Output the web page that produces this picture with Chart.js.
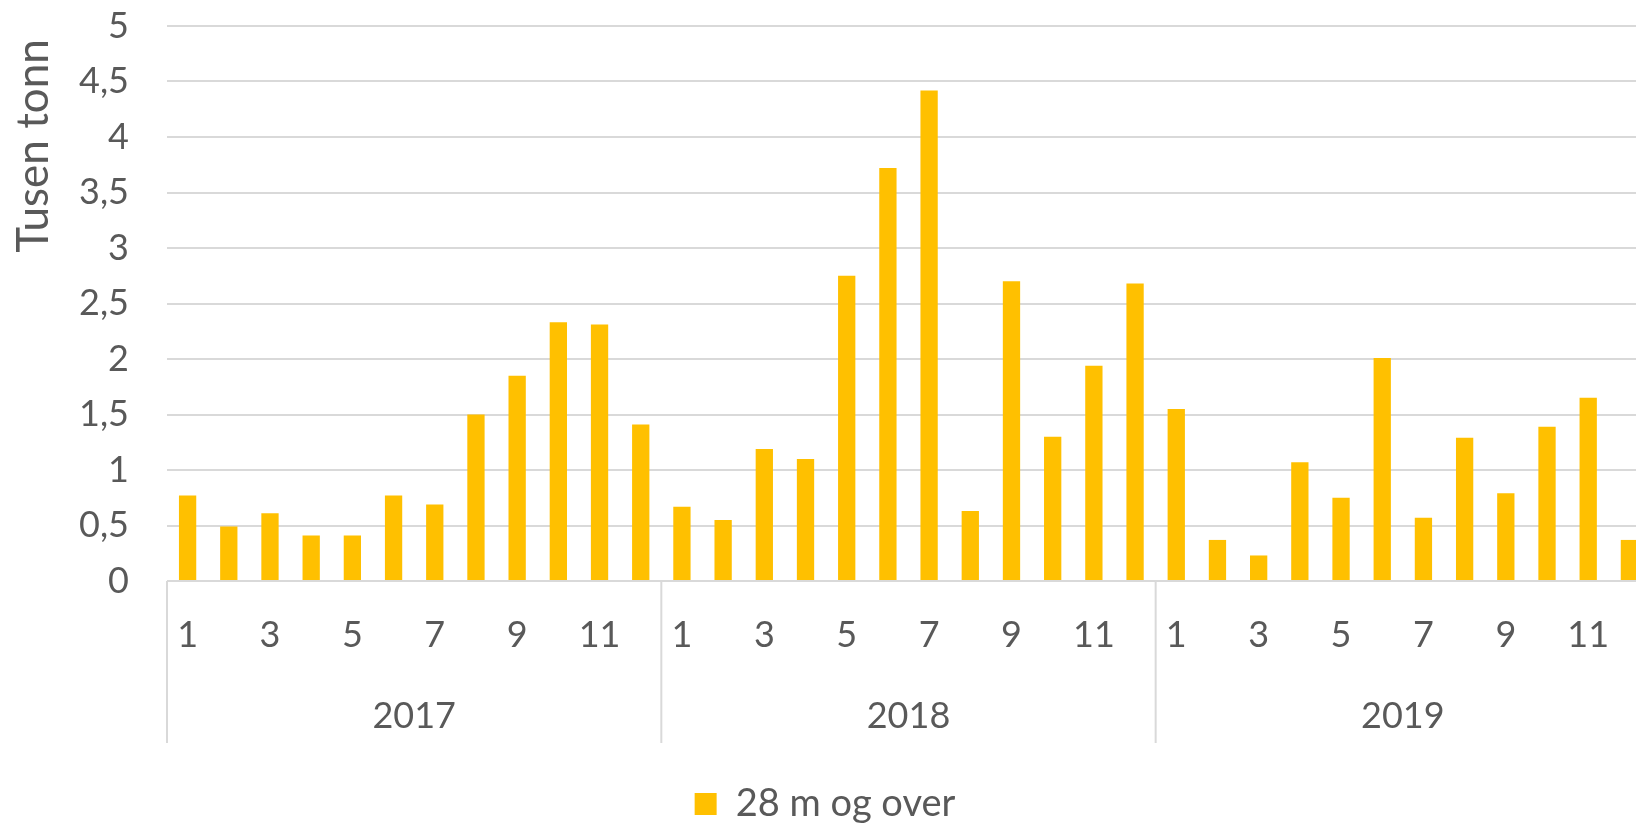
<!DOCTYPE html>
<html>
<head>
<meta charset="utf-8">
<script src="https://cdn.jsdelivr.net/npm/chart.js@4/dist/chart.umd.min.js"></script>
<style>
	html, body { margin: 0; padding: 0; background: #fff; overflow: hidden; }
	#wrap { width: 1664px; height: 833px; }
</style>
</head>
<body>
<div id="wrap"><canvas id="chart"></canvas></div>
<script>
/* Data */
var years = ["2017", "2018", "2019"];
var months = ["1", "2", "3", "4", "5", "6", "7", "8", "9", "10", "11", "12"];
var values2017 = [0.77, 0.49, 0.61, 0.41, 0.41, 0.77, 0.69, 1.50, 1.85, 2.33, 2.31, 1.41];
var values2018 = [0.67, 0.55, 1.19, 1.10, 2.75, 3.72, 4.42, 0.63, 2.70, 1.30, 1.94, 2.68];
var values2019 = [1.55, 0.37, 0.23, 1.07, 0.75, 2.01, 0.57, 1.29, 0.79, 1.39, 1.65, 0.37];
var seriesName = "28 m og over";
var yTitle = "Tusen tonn";

var TEXT = "#595959";
var GRID = "#d9d9d9";
var BAR = "#ffc000";
var FONT = "Lato, 'Open Sans', sans-serif";

var labels = [];
years.forEach(function () { months.forEach(function (m) { labels.push(m); }); });
var values = values2017.concat(values2018, values2019);

/* group row (years), separators and the y title, placed via the x scale */
var excelAxis = {
	id: "excelAxis",
	afterDraw: function (chart) {
		var ctx = chart.ctx;
		var x = chart.scales.x;
		var area = chart.chartArea;
		var step = x.getPixelForValue(1) - x.getPixelForValue(0);
		ctx.save();
		ctx.strokeStyle = GRID;
		ctx.lineWidth = 2;
		ctx.fillStyle = TEXT;
		ctx.font = "36px " + FONT;
		ctx.textAlign = "center";
		ctx.textBaseline = "middle";
		years.forEach(function (yr, g) {
			var left = x.getPixelForValue(g * months.length) - step / 2;
			ctx.beginPath();
			ctx.moveTo(left, area.bottom);
			ctx.lineTo(left, area.bottom + 162);
			ctx.stroke();
			ctx.fillText(yr, left + step * months.length / 2, area.bottom + 135);
		});
		ctx.translate(34, 146);
		ctx.rotate(-Math.PI / 2);
		ctx.font = "44px " + FONT;
		ctx.fillText(yTitle, 0, 0);
		ctx.restore();
	}
};

new Chart(document.getElementById("chart"), {
	type: "bar",
	data: {
		labels: labels,
		datasets: [{
			label: seriesName,
			data: values,
			backgroundColor: BAR,
			borderWidth: 0,
			categoryPercentage: 1,
			barPercentage: 0.42
		}]
	},
	options: {
		responsive: true,
		maintainAspectRatio: false,
		animation: false,
		layout: { padding: { left: 0, right: 14, top: 26, bottom: 0 } },
		plugins: {
			tooltip: { enabled: false },
			legend: {
				position: "bottom",
				labels: {
					color: TEXT,
					font: { family: FONT, size: 38, lineHeight: 1 },
					boxWidth: 22,
					boxHeight: 22,
					padding: 0
				}
			}
		},
		scales: {
			x: {
				grid: { display: false },
				border: { display: false },
				ticks: {
					color: TEXT,
					font: { family: FONT, size: 36 },
					autoSkip: false,
					maxRotation: 0,
					minRotation: 0,
					padding: 25,
					callback: function (v, i) { return i % 2 === 0 ? labels[i] : ""; }
				},
				afterFit: function (s) { s.height = 204; }
			},
			y: {
				min: 0,
				max: 5,
				grid: { color: GRID, lineWidth: 2, drawTicks: false },
				border: { display: false },
				ticks: {
					stepSize: 0.5,
					color: TEXT,
					font: { family: FONT, size: 36 },
					padding: 38,
					callback: function (v) { return String(v).replace(".", ","); }
				},
				afterFit: function (s) {
					s.width = 167;
					s.paddingTop = 0;
					s.paddingBottom = 0;
				}
			}
		}
	},
	plugins: [excelAxis]
});
</script>
</body>
</html>
